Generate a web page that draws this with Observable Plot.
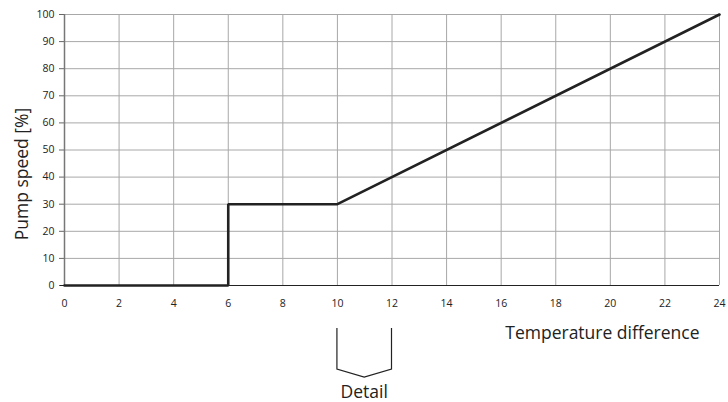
<!DOCTYPE html>
<html>
<head>
<meta charset="utf-8">
<script src="https://cdn.jsdelivr.net/npm/d3@7"></script>
<script src="https://cdn.jsdelivr.net/npm/@observablehq/plot@0.6"></script>
<style>
  html, body { margin: 0; padding: 0; background: #fff; }
  svg { display: block; }
</style>
</head>
<body>
<div id="chart"></div>
<script>
// Data
const tempDiff = [0, 6, 6, 10, 24];
const pumpSpeed = [0, 0, 30, 30, 100];
const xTicks = [0, 2, 4, 6, 8, 10, 12, 14, 16, 18, 20, 22, 24];
const yTicks = [0, 10, 20, 30, 40, 50, 60, 70, 80, 90, 100];
const detailRange = [10, 12];
const xLabel = "Temperature difference";
const yLabel = "Pump speed [%]";
const detailLabel = "Detail";

const points = tempDiff.map((t, i) => ({t, s: pumpSpeed[i]}));

const font = "'Open Sans', Lato, sans-serif";

// Brace below the x axis, positioned with the x scale
const brace = (index, scales, values, dims) => {
  const x0 = scales.x(detailRange[0]);
  const x1 = scales.x(detailRange[1]);
  const xm = (x0 + x1) / 2;
  const yb = dims.height - dims.marginBottom;
  const top = yb + 43, bot = yb + 84, tip = yb + 92;
  const g = d3.create("svg:g");
  g.append("path")
    .attr("d", `M${x0},${top}L${x0},${bot}L${xm},${tip}L${x1},${bot}L${x1},${top}`)
    .attr("fill", "none")
    .attr("stroke", "#222")
    .attr("stroke-width", 1.2);
  g.append("text")
    .attr("x", xm)
    .attr("y", yb + 113)
    .attr("text-anchor", "middle")
    .attr("font-size", 17.5)
    .attr("font-family", font)
    .attr("fill", "#222")
    .text(detailLabel);
  return g.node();
};

const chart = Plot.plot({
  width: 728,
  height: 402,
  marginLeft: 64,
  marginRight: 9,
  marginTop: 14,
  marginBottom: 117,
  style: {fontFamily: font, fontSize: "10.5px", color: "#222", background: "#fff"},
  x: {domain: [0, 24]},
  y: {domain: [0, 100]},
  marks: [
    Plot.gridX(xTicks, {stroke: "#a8a8a8", strokeOpacity: 1, strokeWidth: 1}),
    Plot.gridY(yTicks, {stroke: "#a8a8a8", strokeOpacity: 1, strokeWidth: 1}),
    Plot.axisX(xTicks, {tickSize: 0, tickPadding: 14, label: null, fontSize: 10.5}),
    Plot.axisY(yTicks, {tickSize: 5, tickPadding: 5, label: null, fontSize: 10.5, stroke: "#666"}),
    Plot.ruleY([0], {stroke: "#222", strokeWidth: 1.2, x1: -0.15, x2: 24}),
    Plot.ruleX([0], {stroke: "#777", strokeWidth: 1.5}),
    Plot.line(points, {x: "t", y: "s", stroke: "#222", strokeWidth: 2.6, strokeLinejoin: "miter"}),
    Plot.text([xLabel], {frameAnchor: "bottom-right", textAnchor: "end", dx: -20, dy: 53, fontSize: 17.5, fill: "#222"}),
    Plot.text([yLabel], {frameAnchor: "left", textAnchor: "middle", rotate: -90, dx: -42, dy: 24, fontSize: 17.5, fill: "#222"}),
    brace
  ]
});

document.getElementById("chart").appendChild(chart);
</script>
</body>
</html>
